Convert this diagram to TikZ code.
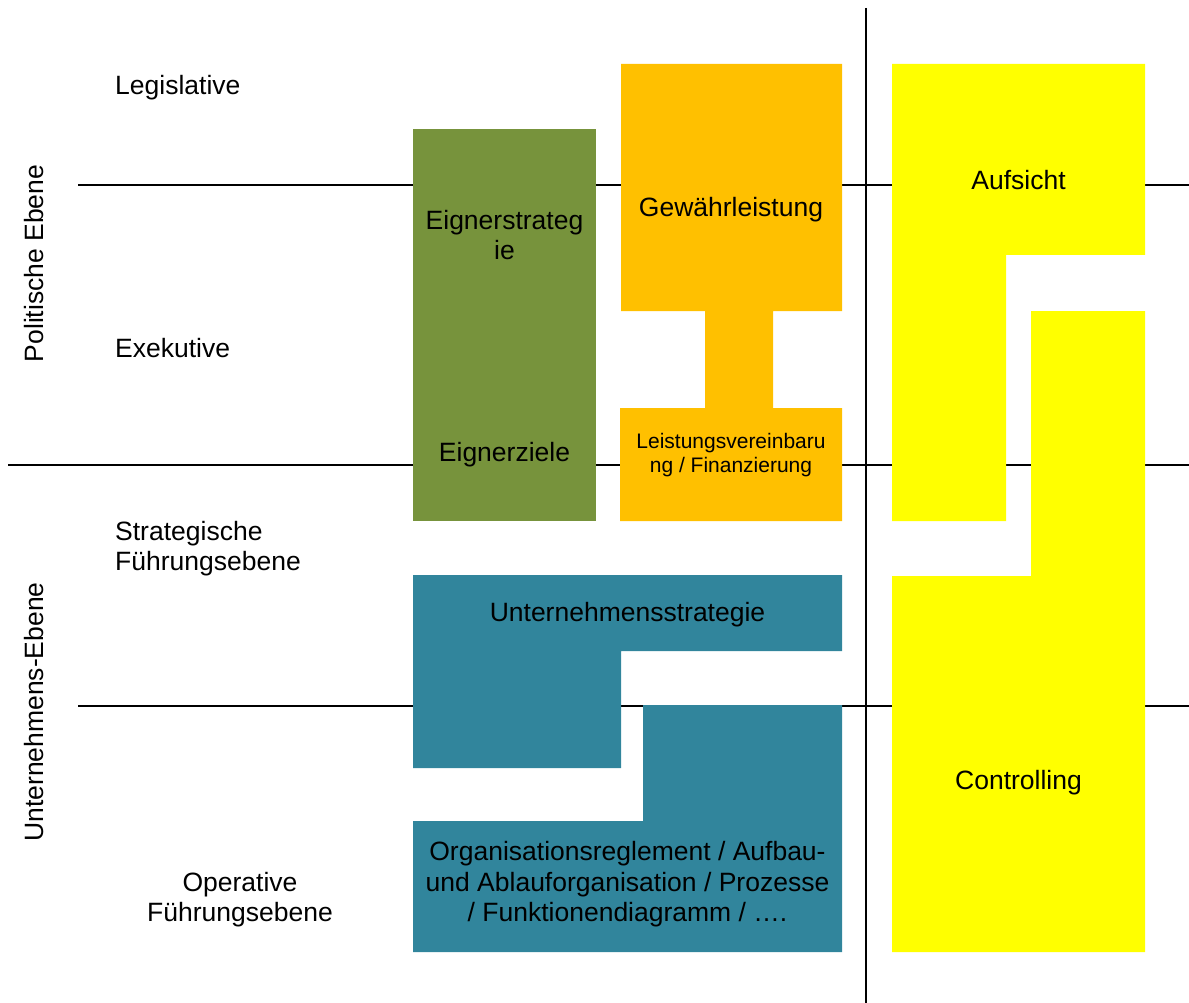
\documentclass[tikz,border=0pt]{standalone}
\usepackage{fontspec}
\setmainfont{Liberation Sans}
\definecolor{ownergreen}{HTML}{77933C}
\definecolor{warrantorange}{HTML}{FFC000}
\definecolor{superyellow}{HTML}{FFFF00}
\definecolor{firmteal}{HTML}{31859C}
\tikzset{
	rule/.style={line width=1.6pt},
	lbl/.style={font=\fontsize{26.5}{30.5}\selectfont, inner sep=0pt},
	smalllbl/.style={font=\fontsize{21}{24.7}\selectfont, inner sep=0pt}
}

\begin{document}
\begin{tikzpicture}[x=1pt,y=-1pt]
	\useasboundingbox (0,0) rectangle (1189,1003);
	% level rules and the divider
	\foreach \y/\xa in {185/78,465/8,706/78}{
		\draw[rule] (\xa,\y) -- (1189,\y);}
	\draw[rule] (866,8) -- (866,1003);
	% owner, warranty, supervision
	\fill[ownergreen] (413,129) rectangle (596,521);
	\fill[warrantorange] (621,64) -- (842,64) -- (842,311) -- (773,311) -- (773,408) -- (842,408)
		-- (842,521) -- (620,521) -- (620,408) -- (705,408) -- (705,311) -- (621,311) -- cycle;
	\fill[superyellow] (892,64) -- (1145,64) -- (1145,255) -- (1006,255) -- (1006,521) -- (892,521) -- cycle;
	\fill[superyellow] (1031,311) -- (1145,311) -- (1145,952) -- (892,952) -- (892,576) -- (1031,576) -- cycle;
	% company level
	\fill[firmteal] (413,575) -- (842,575) -- (842,651) -- (621,651) -- (621,768) -- (413,768) -- cycle;
	\fill[firmteal] (643,705) -- (842,705) -- (842,952) -- (413,952) -- (413,821) -- (643,821) -- cycle;
	% side labels (multi-line ones sit on their last baseline)
	\node[lbl, rotate=90, anchor=base] (pol) at (43,263.5) {Politische Ebene};
	\node[lbl, rotate=90, anchor=base] (unt) at (43,712) {Unternehmens-Ebene};
	\node[lbl, anchor=base west] (legis) at (115,94.3) {Legislative};
	\node[lbl, anchor=base west] (exek) at (115,357) {Exekutive};
	\node[lbl, anchor=base west, align=left] (strat) at (115,570.7) {Strategische\\Führungsebene};
	\node[lbl, anchor=base, align=center] (oper) at (240,921.7) {Operative\\Führungsebene};
	% box texts
	\node[lbl, anchor=base, align=center] (estrat) at (504.5,260) {Eignerstrateg\\ie};
	\node[lbl, anchor=base] (eziel) at (504.5,461.7) {Eignerziele};
	\node[lbl, anchor=base] (gewaehr) at (731,216.7) {Gewährleistung};
	\node[smalllbl, anchor=base, align=center] (leist) at (731,472.7) {Leistungsvereinbaru\\ng / Finanzierung};
	\node[lbl, anchor=base] (aufs) at (1018.5,189.4) {Aufsicht};
	\node[lbl, anchor=base] (ustrat) at (627.5,621) {Unternehmensstrategie};
	\node[lbl, anchor=base, align=center] (orga) at (627.5,921.7) {Organisationsreglement / Aufbau-\\und Ablauforganisation / Prozesse\\/ Funktionendiagramm / ….};
	\node[lbl, anchor=base] (contr) at (1018.5,789.3) {Controlling};
\end{tikzpicture}
\end{document}
